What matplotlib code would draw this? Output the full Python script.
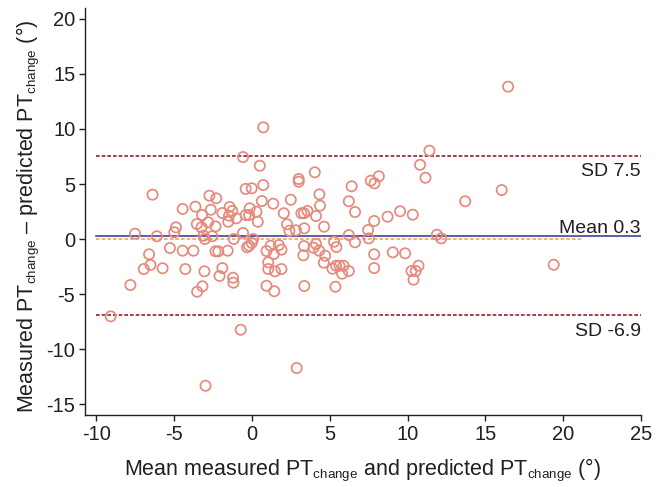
import matplotlib
matplotlib.use("Agg")
import matplotlib.pyplot as plt
import matplotlib._mathtext as _mt

_mt.SHRINK_FACTOR = 0.62

plt.rcParams['font.family'] = ['Liberation Sans', 'DejaVu Sans']
plt.rcParams['mathtext.fontset'] = 'custom'
plt.rcParams['mathtext.rm'] = 'Liberation Sans'
plt.rcParams['mathtext.it'] = 'Liberation Sans'

# Mean of measured and predicted PT change (x) and difference (y)
mean_vals = [
    0.72, -0.58, 0.50, -6.40, -0.41, -0.02, 0.72, -2.74, -2.30, -4.46,
    -3.64, -2.65, 0.63, 1.36, -3.21, -1.91, -1.44, -1.27, -1.48, -1.01,
    -0.41, -0.15, -0.19, 0.28, 0.37, -3.55, -2.82, -2.35, -3.25, -4.89,
    -5.00, -1.53, -7.52, -6.12, -3.12, -3.03, -2.56, -1.18, -0.58, 0.07,
    -0.02, -0.19, -0.32, 1.19, -6.62, -5.28, -4.46, -3.77, -2.35, -2.17,
    -1.57, 0.93, 1.40, -6.96, -6.53, -5.75, -4.29, -3.06, -1.91, -2.09,
    -1.22, -1.20, 1.04, 1.04, 1.47, 0.93, 1.43, -7.82, -3.19, -3.53,
    -9.09, -0.73, -2.99, 4.03, 3.00, 3.00, 11.40, 10.80, 11.15, 7.63,
    8.15, 7.87, 6.40, 4.33, 4.37, 2.49, 2.04, 3.17, 3.34, 3.56,
    4.11, 2.25, 2.40, 2.82, 3.36, 4.63, 7.85, 7.46, 8.71, 9.52,
    10.33, 6.22, 6.62, 7.50, 11.88, 12.16, 5.27, 5.42, 1.72, 1.89,
    3.34, 3.30, 3.95, 4.11, 4.31, 4.70, 7.85, 9.05, 9.84, 6.22,
    6.62, 1.89, 3.36, 4.61, 5.17, 5.40, 5.62, 5.88, 5.79, 6.22,
    5.36, 7.85, 10.70, 10.25, 10.52, 10.38, 2.87, 16.46, 16.05, 13.70,
    19.39,
]
diff_vals = [
    10.15, 7.45, 6.66, 4.03, 4.55, 4.61, 4.91, 3.94, 3.70, 2.73,
    2.94, 2.66, 3.45, 3.21, 2.18, 2.36, 2.91, 2.55, 2.12, 1.88,
    2.18, 2.79, 2.18, 2.48, 1.57, 1.36, 1.52, 1.15, 1.06, 1.06,
    0.61, 1.57, 0.48, 0.25, 0.30, 0.00, 0.25, 0.00, 0.55, 0.00,
    -0.36, -0.61, -0.75, -0.61, -1.39, -0.82, -1.06, -1.06, -1.12, -1.12,
    -1.06, -1.09, -1.36, -2.73, -2.36, -2.66, -2.73, -2.94, -2.64, -3.36,
    -3.52, -3.97, -2.12, -2.73, -2.94, -4.25, -4.75, -4.18, -4.30, -4.79,
    -7.03, -8.25, -13.34, 6.06, 5.45, 5.21, 8.03, 6.75, 5.57, 5.30,
    5.70, 5.06, 4.79, 4.06, 3.03, 3.57, 2.34, 2.34, 2.34, 2.55,
    2.09, 1.34, 0.75, 0.79, 0.97, 1.12, 1.64, 0.82, 2.03, 2.52,
    2.21, 0.36, -0.30, 0.06, 0.39, 0.06, -0.25, -0.73, -0.55, -0.97,
    -0.64, -1.48, -0.79, -0.45, -1.06, -1.52, -1.39, -1.21, -1.30, 3.43,
    2.45, -2.73, -4.27, -2.15, -2.70, -2.43, -2.43, -2.43, -3.15, -2.91,
    -4.34, -2.64, -2.43, -2.91, -2.91, -3.70, -11.73, 13.85, 4.45, 3.43,
    -2.34,
]

mean_diff = 0.3
sd_upper = 7.5
sd_lower = -6.9
zero_line = 0.0
line_x = [-10, 25]
zero_x = [-10, 21.3]

xticks = [-10, -5, 0, 5, 10, 15, 20, 25]
yticks = [-15, -10, -5, 0, 5, 10, 15, 20]

text_color = '#231F20'

fig = plt.figure(figsize=(6.66, 4.87), dpi=100)
ax = fig.add_axes([0.1276, 0.1478, 0.8348, 0.8358])

sd_color = '#9B1E24'
ax.plot(line_x, [sd_upper, sd_upper], color=sd_color, lw=1.2, ls=(0, (2.2, 1.2)))
ax.plot(line_x, [sd_lower, sd_lower], color=sd_color, lw=1.2, ls=(0, (2.2, 1.2)))
ax.plot(line_x, [mean_diff, mean_diff], color='#2E3192', lw=1.1)
ax.plot(zero_x, [zero_line, zero_line], color='#F7A35C', lw=1.2, ls=(0, (2.2, 1.2)))

ax.scatter(mean_vals, diff_vals, s=54, facecolors='none', edgecolors='#E58A7C',
           linewidths=1.25, zorder=3)

txt_kw = dict(fontsize=14, color=text_color, ha='right', va='baseline',
              textcoords='offset points', annotation_clip=False)
ax.annotate('SD 7.5', (25, sd_upper), xytext=(0, -14.4), **txt_kw)
ax.annotate('Mean 0.3', (25, mean_diff), xytext=(0, 2.2), **txt_kw)
ax.annotate('SD -6.9', (25, sd_lower), xytext=(0, -15), **txt_kw)

ax.set_xlim(-10.74, 25)
ax.set_ylim(-16, 21)
ax.set_xticks(xticks)
ax.set_yticks(yticks)
ax.set_xticklabels([str(t) for t in xticks])
ax.set_yticklabels([str(t) for t in yticks])
ax.tick_params(axis='both', direction='out', length=4.5, width=1, color=text_color,
               labelsize=14.5, labelcolor=text_color, pad=2.5)

for s in ['top', 'right']:
    ax.spines[s].set_visible(False)
for s in ['left', 'bottom']:
    ax.spines[s].set_color(text_color)
    ax.spines[s].set_linewidth(1)

ax.set_xlabel(r'Mean measured PT$_{\mathregular{change}}$ and predicted PT$_{\mathregular{change}}$ (°)',
              fontsize=15.5, color=text_color, labelpad=9)
ax.set_ylabel(r'Measured PT$_{\mathregular{change}}$ – predicted PT$_{\mathregular{change}}$ (°)',
              fontsize=15.5, color=text_color)
ax.yaxis.set_label_coords(-0.077, 0.487)

fig.savefig('out.png', dpi=100)
